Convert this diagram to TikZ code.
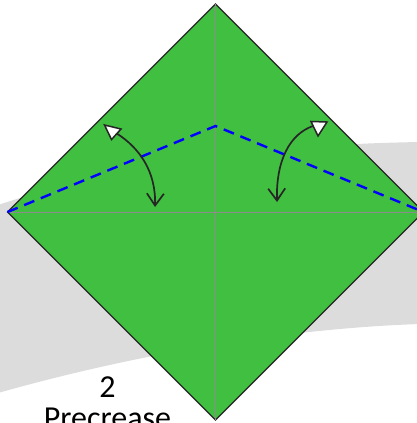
\documentclass[tikz,border=0pt]{standalone}
\usepackage{fontspec}
\setmainfont{Carlito}
\usepackage{tikz}
\usetikzlibrary{arrows.meta, positioning, calc}
\definecolor{paperback}{HTML}{DCDCDC}
\definecolor{papergreen}{HTML}{40BF40}
\definecolor{creasegray}{HTML}{8C8C8C}
\definecolor{valleyblue}{HTML}{0000FF}

\tikzset{
  paper/.style={fill=papergreen, draw=black!85, line width=1.3pt, line join=miter},
  crease/.style={draw=creasegray, line width=0.9pt},
  valley/.style={draw=valleyblue, line width=2.4pt, dash pattern=on 11pt off 7pt},
  foldarrow/.style={draw=black!85, line width=1.7pt, -{Straight Barb[length=12pt, width=17pt]}},
  openhead/.style={fill=white, draw=black!85, line width=1.5pt, line join=miter}
}

\begin{document}
\begin{tikzpicture}[x=1pt, y=-1pt]
    \useasboundingbox (0,0) rectangle (417,423);

    % Background band
    \fill[paperback] (-2,205) .. controls (120,165) and (250,145) .. (420,142)
        -- (420,324) .. controls (300,328) and (150,350) .. (-2,393) -- cycle;

    % Square paper, corner up
    \coordinate (top) at (215.5,4);
    \coordinate (right) at (423.5,212);
    \coordinate (bottom) at (215.5,420);
    \coordinate (left) at (7.5,212);
    \coordinate (peak) at (215.5,126);
    \path[paper] (top) -- (right) -- (bottom) -- (left) -- cycle;

    % Existing creases
    \draw[crease] (left) -- (right);
    \draw[crease] (top) -- (bottom);

    % Valley folds
    \draw[valley] (left) -- (peak) -- (right);

    % Fold arrows
    \coordinate (lstart) at (116,133);
    \coordinate (lend) at (155,207);
    \coordinate (rstart) at (313,126);
    \coordinate (rend) at (277,202);
    \draw[foldarrow] (lstart) .. controls (140,148) and (156,172) .. (lend);
    \draw[foldarrow] (rstart) .. controls (290,134) and (276,160) .. (rend);
    \path[openhead] (104.5,125) -- (111.5,139.5) -- (121,129) -- cycle;
    \path[openhead] (318,136) -- (311,121.5) -- (327,122) -- cycle;

    % Step label
    \node[font=\fontsize{32}{31}\selectfont, align=center, anchor=base] (steplabel) at (107.5,428) {2\\Precrease};
\end{tikzpicture}
\end{document}
